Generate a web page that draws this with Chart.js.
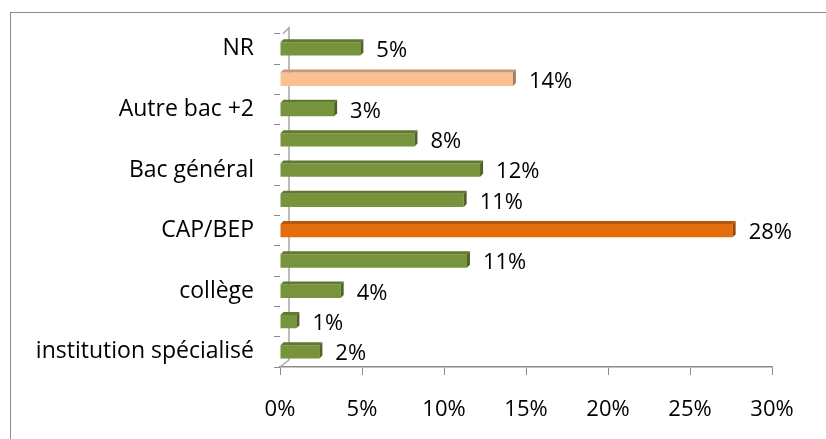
<!DOCTYPE html>
<html>
<head>
<meta charset="utf-8">
<script src="https://cdn.jsdelivr.net/npm/chart.js@4/dist/chart.umd.min.js"></script>
<style>
    body { margin: 0; background: #fff; overflow: hidden; }
    #wrap { position: relative; width: 826px; height: 439px; }
    #frame { position: absolute; left: 10px; top: 12px; width: 900px; height: 500px; border: 1px solid #8c8c8c; }
    canvas { position: absolute; left: 0; top: 0; }
</style>
</head>
<body>
<div id="wrap">
    <div id="frame"></div>
    <canvas id="chart" width="826" height="439"></canvas>
</div>
<script>
// Categories, top to bottom (Excel skipped every other label)
const categories = ['NR', '', 'Autre bac +2', '', 'Bac général', '', 'CAP/BEP', '', 'collège', '', 'institution spécialisé'];
// Share of respondents, in %
const values = [4.9, 14.2, 3.3, 8.2, 12.2, 11.2, 27.6, 11.4, 3.7, 1.0, 2.4];
const xTicks = [0, 5, 10, 15, 20, 25, 30];

const GREEN = { front: '#77933c', top: '#5f7a2c', side: '#4f6228' };
const ORANGE = { front: '#e46c0a', top: '#b8570a', side: '#984807' };
const PEACH = { front: '#fac090', top: '#c9987a', side: '#a87c62' };
const barStyles = [GREEN, PEACH, GREEN, GREEN, GREEN, GREEN, ORANGE, GREEN, GREEN, GREEN, GREEN];

const FONT = '"Open Sans", Lato, sans-serif';
const DEPTH = 3;

// Back wall of the 3D plot
const wallPlugin = {
    id: 'wall',
    beforeDatasetsDraw(chart) {
        const { ctx, chartArea } = chart;
        const x0 = chartArea.left;
        ctx.save();
        ctx.strokeStyle = '#a6a6a6';
        ctx.lineWidth = 1.5;
        ctx.beginPath();
        ctx.moveTo(x0 + 3, chartArea.top);
        ctx.lineTo(x0 + 9, chartArea.top - 6);
        ctx.lineTo(x0 + 9, chartArea.bottom - 7);
        ctx.lineTo(x0, chartArea.bottom);
        ctx.stroke();
        ctx.restore();
    }
};

// Top and side faces of the bars + value labels
const bar3dPlugin = {
    id: 'bar3d',
    afterDatasetsDraw(chart) {
        const { ctx } = chart;
        const meta = chart.getDatasetMeta(0);
        ctx.save();
        meta.data.forEach((bar, i) => {
            const st = barStyles[i];
            const h = bar.height;
            const top = bar.y - h / 2;
            const bottom = bar.y + h / 2;

            ctx.fillStyle = st.top;
            ctx.beginPath();
            ctx.moveTo(bar.base, top);
            ctx.lineTo(bar.base + DEPTH, top - DEPTH);
            ctx.lineTo(bar.x + DEPTH, top - DEPTH);
            ctx.lineTo(bar.x, top);
            ctx.closePath();
            ctx.fill();

            ctx.fillStyle = st.side;
            ctx.beginPath();
            ctx.moveTo(bar.x, top);
            ctx.lineTo(bar.x + DEPTH, top - DEPTH);
            ctx.lineTo(bar.x + DEPTH, bottom - DEPTH);
            ctx.lineTo(bar.x, bottom);
            ctx.closePath();
            ctx.fill();

            ctx.fillStyle = '#000';
            ctx.font = '22px ' + FONT;
            ctx.textAlign = 'left';
            ctx.textBaseline = 'middle';
            ctx.fillText(Math.round(values[i]) + '%', bar.x + DEPTH + 13, bar.y + 2);
        });
        ctx.restore();
    }
};

new Chart(document.getElementById('chart'), {
    type: 'bar',
    data: {
        labels: categories,
        datasets: [{
            data: values,
            backgroundColor: barStyles.map(s => s.front),
            borderWidth: 0,
            categoryPercentage: 1,
            barPercentage: 0.44
        }]
    },
    options: {
        indexAxis: 'y',
        responsive: false,
        animation: false,
        layout: { padding: { top: 33, right: 54, bottom: 0, left: 0 } },
        plugins: {
            legend: { display: false },
            tooltip: { enabled: false }
        },
        scales: {
            x: {
                min: 0,
                max: 30,
                afterBuildTicks: scale => { scale.ticks = xTicks.map(v => ({ value: v })); },
                afterFit: scale => { scale.height = 72; },
                grid: { drawOnChartArea: false, color: '#8c8c8c', tickLength: 8 },
                border: { color: '#8c8c8c', width: 1.5 },
                ticks: {
                    color: '#000',
                    padding: 22,
                    font: { size: 22, family: FONT },
                    callback: v => v + '%'
                }
            },
            y: {
                afterFit: scale => { scale.width = 280; },
                grid: { drawOnChartArea: false, color: '#8c8c8c', tickLength: 6 },
                border: { display: false },
                ticks: {
                    autoSkip: false,
                    color: '#000',
                    padding: 20,
                    font: { size: 23, family: FONT }
                }
            }
        }
    },
    plugins: [wallPlugin, bar3dPlugin]
});
</script>
</body>
</html>
